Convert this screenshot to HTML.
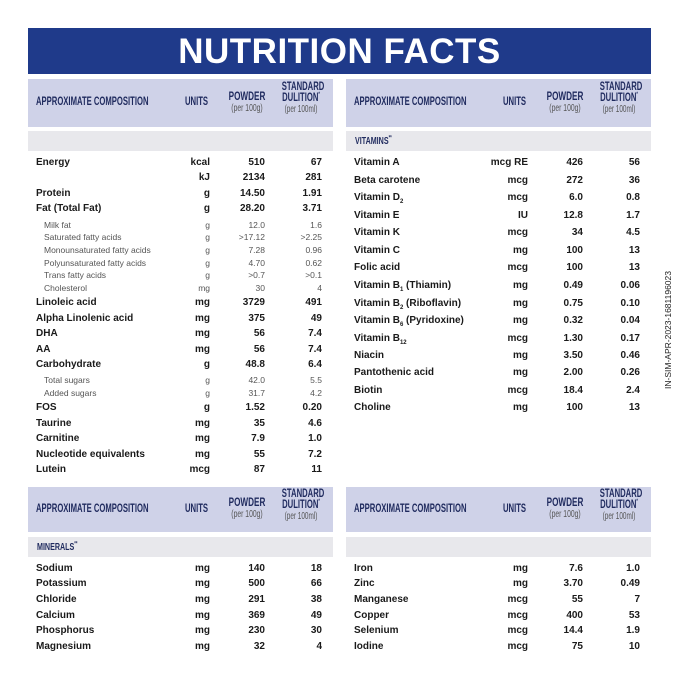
<!DOCTYPE html>
<html><head><meta charset="utf-8"><style>
body{margin:0;width:679px;height:679px;background:#fff;position:relative;overflow:hidden;font-family:"Liberation Sans",sans-serif;color:#1a1a1a}
.ban{position:absolute;left:28px;top:28px;width:623px;height:46px;background:#1f3a8a;color:#fff;font:900 35px "Liberation Sans",sans-serif;text-align:center;line-height:47px;letter-spacing:0.5px}
.p{position:absolute;width:305px}
.h{position:absolute;left:0;width:305px;height:48px;background:#cfd2e8;color:#1f2a5e}
.h div{position:absolute;white-space:nowrap;font-size:12px;font-weight:bold}
.h .a{left:8px;transform:scaleX(0.64);transform-origin:0 50%}
.h .un{left:157px;transform:scaleX(0.64);transform-origin:0 50%}
.h .pw{left:189px;width:60px;text-align:center;transform:scaleX(0.68);line-height:11px}
.h .sd{left:243px;width:60px;text-align:center;transform:scaleX(0.64);line-height:11px}
.h small{font-size:10px;color:#555;font-weight:normal}
.g{position:absolute;left:0;width:305px;height:20px;background:#e8e8ec;color:#1f2a5e;font-size:10.5px;font-weight:bold;line-height:20px;padding-left:9px;box-sizing:border-box}
.g span{display:inline-block;transform:scaleX(0.68);transform-origin:0 50%}
.r{position:absolute;left:0;width:305px;height:12px;line-height:12px;font-size:10px;font-weight:bold}
.r span{position:absolute;white-space:nowrap}
.r .n{left:8px}.r .u{right:123px}.r .w{right:68px}.r .s{right:11px}
.r.x{font-weight:normal;font-size:8.5px;color:#555}
.r.x .n{left:16px}
sub,sup{line-height:0;font-size:6px}
.vt{position:absolute;left:668px;top:330px;font-size:8.5px;transform:translate(-50%,-50%) rotate(-90deg);white-space:nowrap;color:#222}
</style></head><body>
<div class="ban">NUTRITION FACTS</div>

<div class="p" style="left:28px;top:79px">
 <div class="h"><div class="a" style="top:15px">APPROXIMATE COMPOSITION</div><div class="un" style="top:15px">UNITS</div><div class="pw" style="top:12px">POWDER<br><small>(per 100g)</small></div><div class="sd" style="top:2px">STANDARD<br>DULITION<sup>*</sup><br><small>(per 100ml)</small></div></div>
 <div class="g" style="top:52px"></div>
</div>
<div class="p" style="left:346px;top:79px">
 <div class="h"><div class="a" style="top:15px">APPROXIMATE COMPOSITION</div><div class="un" style="top:15px">UNITS</div><div class="pw" style="top:12px">POWDER<br><small>(per 100g)</small></div><div class="sd" style="top:2px">STANDARD<br>DULITION<sup>*</sup><br><small>(per 100ml)</small></div></div>
 <div class="g" style="top:52px"><span>VITAMINS<sup>**</sup></span></div>
</div>
<div class="p" style="left:28px;top:487px">
 <div class="h" style="height:45px"><div class="a" style="top:14px">APPROXIMATE COMPOSITION</div><div class="un" style="top:14px">UNITS</div><div class="pw" style="top:10px">POWDER<br><small>(per 100g)</small></div><div class="sd" style="top:1px">STANDARD<br>DULITION<sup>*</sup><br><small>(per 100ml)</small></div></div>
 <div class="g" style="top:50px"><span>MINERALS<sup>**</sup></span></div>
</div>
<div class="p" style="left:346px;top:487px">
 <div class="h" style="height:45px"><div class="a" style="top:14px">APPROXIMATE COMPOSITION</div><div class="un" style="top:14px">UNITS</div><div class="pw" style="top:10px">POWDER<br><small>(per 100g)</small></div><div class="sd" style="top:1px">STANDARD<br>DULITION<sup>*</sup><br><small>(per 100ml)</small></div></div>
 <div class="g" style="top:50px"></div>
</div>

<div class="p" style="left:28px;top:0">
<div class="r" style="top:157px"><span class="n">Energy</span><span class="u">kcal</span><span class="w">510</span><span class="s">67</span></div>
<div class="r" style="top:172px"><span class="u">kJ</span><span class="w">2134</span><span class="s">281</span></div>
<div class="r" style="top:188px"><span class="n">Protein</span><span class="u">g</span><span class="w">14.50</span><span class="s">1.91</span></div>
<div class="r" style="top:203px"><span class="n">Fat (Total Fat)</span><span class="u">g</span><span class="w">28.20</span><span class="s">3.71</span></div>
<div class="r x" style="top:219px"><span class="n">Milk fat</span><span class="u">g</span><span class="w">12.0</span><span class="s">1.6</span></div>
<div class="r x" style="top:231px"><span class="n">Saturated fatty acids</span><span class="u">g</span><span class="w">&gt;17.12</span><span class="s">&gt;2.25</span></div>
<div class="r x" style="top:244px"><span class="n">Monounsaturated fatty acids</span><span class="u">g</span><span class="w">7.28</span><span class="s">0.96</span></div>
<div class="r x" style="top:257px"><span class="n">Polyunsaturated fatty acids</span><span class="u">g</span><span class="w">4.70</span><span class="s">0.62</span></div>
<div class="r x" style="top:269px"><span class="n">Trans fatty acids</span><span class="u">g</span><span class="w">&gt;0.7</span><span class="s">&gt;0.1</span></div>
<div class="r x" style="top:282px"><span class="n">Cholesterol</span><span class="u">mg</span><span class="w">30</span><span class="s">4</span></div>
<div class="r" style="top:297px"><span class="n">Linoleic acid</span><span class="u">mg</span><span class="w">3729</span><span class="s">491</span></div>
<div class="r" style="top:313px"><span class="n">Alpha Linolenic acid</span><span class="u">mg</span><span class="w">375</span><span class="s">49</span></div>
<div class="r" style="top:328px"><span class="n">DHA</span><span class="u">mg</span><span class="w">56</span><span class="s">7.4</span></div>
<div class="r" style="top:344px"><span class="n">AA</span><span class="u">mg</span><span class="w">56</span><span class="s">7.4</span></div>
<div class="r" style="top:359px"><span class="n">Carbohydrate</span><span class="u">g</span><span class="w">48.8</span><span class="s">6.4</span></div>
<div class="r x" style="top:374px"><span class="n">Total sugars</span><span class="u">g</span><span class="w">42.0</span><span class="s">5.5</span></div>
<div class="r x" style="top:387px"><span class="n">Added sugars</span><span class="u">g</span><span class="w">31.7</span><span class="s">4.2</span></div>
<div class="r" style="top:402px"><span class="n">FOS</span><span class="u">g</span><span class="w">1.52</span><span class="s">0.20</span></div>
<div class="r" style="top:418px"><span class="n">Taurine</span><span class="u">mg</span><span class="w">35</span><span class="s">4.6</span></div>
<div class="r" style="top:433px"><span class="n">Carnitine</span><span class="u">mg</span><span class="w">7.9</span><span class="s">1.0</span></div>
<div class="r" style="top:449px"><span class="n">Nucleotide equivalents</span><span class="u">mg</span><span class="w">55</span><span class="s">7.2</span></div>
<div class="r" style="top:464px"><span class="n">Lutein</span><span class="u">mcg</span><span class="w">87</span><span class="s">11</span></div>
<div class="r" style="top:563px"><span class="n">Sodium</span><span class="u">mg</span><span class="w">140</span><span class="s">18</span></div>
<div class="r" style="top:578px"><span class="n">Potassium</span><span class="u">mg</span><span class="w">500</span><span class="s">66</span></div>
<div class="r" style="top:594px"><span class="n">Chloride</span><span class="u">mg</span><span class="w">291</span><span class="s">38</span></div>
<div class="r" style="top:610px"><span class="n">Calcium</span><span class="u">mg</span><span class="w">369</span><span class="s">49</span></div>
<div class="r" style="top:625px"><span class="n">Phosphorus</span><span class="u">mg</span><span class="w">230</span><span class="s">30</span></div>
<div class="r" style="top:641px"><span class="n">Magnesium</span><span class="u">mg</span><span class="w">32</span><span class="s">4</span></div>
</div>

<div class="p" style="left:346px;top:0">
<div class="r" style="top:157px"><span class="n">Vitamin A</span><span class="u">mcg RE</span><span class="w">426</span><span class="s">56</span></div>
<div class="r" style="top:175px"><span class="n">Beta carotene</span><span class="u">mcg</span><span class="w">272</span><span class="s">36</span></div>
<div class="r" style="top:192px"><span class="n">Vitamin D<sub>2</sub></span><span class="u">mcg</span><span class="w">6.0</span><span class="s">0.8</span></div>
<div class="r" style="top:210px"><span class="n">Vitamin E</span><span class="u">IU</span><span class="w">12.8</span><span class="s">1.7</span></div>
<div class="r" style="top:227px"><span class="n">Vitamin K</span><span class="u">mcg</span><span class="w">34</span><span class="s">4.5</span></div>
<div class="r" style="top:245px"><span class="n">Vitamin C</span><span class="u">mg</span><span class="w">100</span><span class="s">13</span></div>
<div class="r" style="top:262px"><span class="n">Folic acid</span><span class="u">mcg</span><span class="w">100</span><span class="s">13</span></div>
<div class="r" style="top:280px"><span class="n">Vitamin B<sub>1</sub> (Thiamin)</span><span class="u">mg</span><span class="w">0.49</span><span class="s">0.06</span></div>
<div class="r" style="top:298px"><span class="n">Vitamin B<sub>2</sub> (Riboflavin)</span><span class="u">mg</span><span class="w">0.75</span><span class="s">0.10</span></div>
<div class="r" style="top:315px"><span class="n">Vitamin B<sub>6</sub> (Pyridoxine)</span><span class="u">mg</span><span class="w">0.32</span><span class="s">0.04</span></div>
<div class="r" style="top:333px"><span class="n">Vitamin B<sub>12</sub></span><span class="u">mcg</span><span class="w">1.30</span><span class="s">0.17</span></div>
<div class="r" style="top:350px"><span class="n">Niacin</span><span class="u">mg</span><span class="w">3.50</span><span class="s">0.46</span></div>
<div class="r" style="top:367px"><span class="n">Pantothenic acid</span><span class="u">mg</span><span class="w">2.00</span><span class="s">0.26</span></div>
<div class="r" style="top:385px"><span class="n">Biotin</span><span class="u">mcg</span><span class="w">18.4</span><span class="s">2.4</span></div>
<div class="r" style="top:402px"><span class="n">Choline</span><span class="u">mg</span><span class="w">100</span><span class="s">13</span></div>
<div class="r" style="top:563px"><span class="n">Iron</span><span class="u">mg</span><span class="w">7.6</span><span class="s">1.0</span></div>
<div class="r" style="top:578px"><span class="n">Zinc</span><span class="u">mg</span><span class="w">3.70</span><span class="s">0.49</span></div>
<div class="r" style="top:594px"><span class="n">Manganese</span><span class="u">mcg</span><span class="w">55</span><span class="s">7</span></div>
<div class="r" style="top:610px"><span class="n">Copper</span><span class="u">mcg</span><span class="w">400</span><span class="s">53</span></div>
<div class="r" style="top:625px"><span class="n">Selenium</span><span class="u">mcg</span><span class="w">14.4</span><span class="s">1.9</span></div>
<div class="r" style="top:641px"><span class="n">Iodine</span><span class="u">mcg</span><span class="w">75</span><span class="s">10</span></div>
</div>

<div class="vt">IN-SIM-APR-2023-1681196023</div>
</body></html>
